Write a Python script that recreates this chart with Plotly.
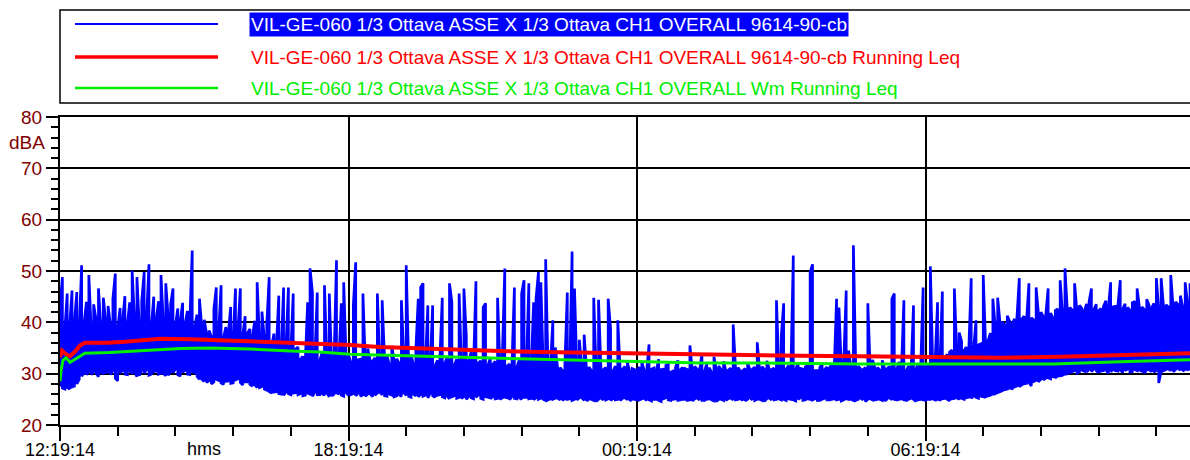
import numpy as np
import pandas as pd
import plotly.graph_objects as go

# ---------------- data ----------------
start_time = "2000-01-01 12:19:14"
span_minutes = 1410
blue_step_minutes = 3

blue_name = "VIL-GE-060 1/3 Ottava ASSE X 1/3 Ottava CH1 OVERALL 9614-90-cb"
red_name = "VIL-GE-060 1/3 Ottava ASSE X 1/3 Ottava CH1 OVERALL 9614-90-cb Running Leq"
green_name = "VIL-GE-060 1/3 Ottava ASSE X 1/3 Ottava CH1 OVERALL Wm Running Leq"

# per 3-minute interval: minimum and maximum level of the raw trace (dBA)
blue_min_db = [
    27.5, 27.2, 27.0, 27.3, 27.0, 27.4, 27.6, 28.0, 28.9, 29.5, 30.2, 29.8, 30.4, 29.8, 30.5, 30.1, 29.4, 30.3, 29.9, 30.1,
    30.4, 29.8, 30.6, 29.1, 28.6, 30.2, 30.6, 29.9, 29.8, 30.5, 30.0, 30.3, 29.4, 29.6, 30.7, 30.1, 30.8, 29.7, 29.9, 30.4,
    30.5, 29.9, 30.1, 30.0, 29.6, 29.7, 30.4, 30.2, 30.9, 29.8, 29.5, 30.3, 30.6, 29.9, 29.8, 30.4, 30.2, 29.5, 28.9, 28.9,
    28.5, 28.3, 28.6, 28.0, 28.4, 28.9, 28.7, 28.2, 27.9, 28.5, 28.6, 28.1, 28.2, 28.8, 29.0, 28.3, 27.8, 28.4, 28.4, 27.9,
    27.6, 27.8, 27.3, 27.3, 27.5, 27.0, 26.8, 26.5, 26.2, 26.4, 26.5, 26.1, 26.0, 25.8, 26.4, 26.1, 25.9, 26.2, 26.3, 25.9,
    26.1, 25.7, 25.8, 26.2, 26.0, 25.6, 26.4, 25.9, 25.9, 26.1, 25.8, 26.2, 25.5, 25.7, 26.0, 26.3, 26.0, 25.8, 25.6, 26.3,
    25.8, 25.9, 26.1, 25.7, 26.2, 25.6, 25.9, 25.6, 26.0, 26.1, 25.5, 25.8, 26.2, 26.4, 25.9, 25.7, 25.6, 26.0, 25.8, 25.5,
    25.7, 25.9, 25.6, 26.3, 25.8, 25.6, 25.4, 26.0, 25.7, 25.5, 25.9, 25.6, 25.8, 25.3, 26.2, 25.7, 25.4, 25.8, 25.9, 25.5,
    25.3, 25.6, 25.1, 25.5, 25.7, 25.2, 25.4, 25.2, 25.5, 25.0, 25.6, 25.3, 25.1, 25.4, 25.8, 25.2, 25.0, 25.5, 25.4, 25.1,
    25.5, 25.1, 25.2, 25.0, 25.3, 25.4, 25.3, 24.9, 25.6, 25.2, 25.1, 25.3, 25.0, 25.4, 25.4, 25.1, 25.2, 24.9, 25.3, 25.0,
    25.2, 25.0, 24.8, 24.9, 25.1, 25.0, 25.2, 25.2, 24.9, 24.8, 25.1, 25.0, 25.1, 24.8, 25.0, 24.9, 25.3, 25.3, 24.8, 24.7,
    25.0, 25.0, 24.8, 24.6, 25.0, 25.2, 24.9, 24.9, 25.1, 24.8, 25.1, 24.9, 25.0, 24.8, 25.2, 25.3, 24.9, 24.7, 25.0, 25.0,
    24.9, 24.9, 25.1, 25.2, 24.8, 24.9, 24.7, 25.0, 25.0, 24.8, 24.6, 25.1, 25.3, 24.9, 24.8, 25.0, 25.1, 24.8, 24.9, 25.0,
    25.0, 24.8, 24.9, 24.7, 25.1, 25.2, 24.9, 24.8, 24.8, 25.0, 25.1, 24.9, 24.7, 24.6, 25.0, 25.0, 24.8, 24.8, 25.1, 25.2,
    24.9, 24.9, 25.0, 25.1, 24.8, 24.7, 25.0, 25.3, 24.9, 24.8, 25.0, 25.0, 24.8, 24.6, 25.1, 25.2, 24.9, 24.9, 25.0, 25.1,
    24.9, 25.0, 24.8, 25.1, 25.0, 24.9, 24.7, 25.0, 25.3, 24.8, 24.9, 25.1, 25.0, 24.9, 25.1, 24.8, 24.8, 25.0, 25.2, 24.9,
    24.9, 25.0, 25.1, 24.9, 25.0, 24.7, 24.9, 25.1, 25.0, 25.0, 24.8, 24.8, 25.0, 25.2, 24.9, 24.6, 25.0, 25.1, 24.9, 24.9,
    25.0, 25.0, 24.8, 24.7, 25.0, 25.3, 24.9, 25.0, 24.9, 25.0, 25.1, 24.9, 24.8, 25.0, 25.2, 25.0, 24.6, 24.9, 25.0, 24.9,
    24.8, 25.0, 25.0, 25.1, 24.9, 25.0, 24.9, 25.1, 25.2, 25.0, 24.7, 25.1, 25.2, 25.3, 25.0, 25.2, 25.0, 25.3, 25.4, 25.2,
    25.6, 25.4, 25.2, 25.6, 25.5, 25.5, 25.7, 25.8, 26.0, 26.1, 26.3, 26.5, 26.7, 26.9, 27.0, 27.2, 27.1, 27.4, 27.6, 27.5,
    27.8, 28.0, 28.1, 28.3, 27.6, 28.5, 28.7, 28.4, 28.9, 28.8, 29.1, 29.2, 29.0, 29.4, 29.3, 29.5, 29.6, 29.7, 29.9, 30.0,
    30.2, 30.4, 30.6, 30.1, 30.3, 30.7, 30.5, 30.3, 30.8, 30.4, 30.9, 30.6, 30.2, 30.5, 30.6, 30.8, 30.0, 30.4, 30.8, 30.6,
    30.5, 30.7, 30.2, 30.6, 30.9, 30.3, 30.4, 30.8, 30.6, 30.7, 30.5, 30.1, 30.7, 30.8, 30.4, 30.3, 30.6, 28.2, 30.5, 30.6,
    30.8, 30.9, 30.6, 30.4, 30.8, 31.0, 30.7, 30.5, 30.9, 30.8, 30.9,
]
blue_max_db = [
    42.8, 48.8, 38.5, 45.6, 39.2, 46.2, 40.1, 45.9, 38.7, 51.1, 39.8, 44.0, 49.2, 38.2, 43.5, 40.6, 46.6, 39.0, 44.8, 40.3,
    43.2, 39.4, 44.6, 49.5, 38.9, 42.8, 40.2, 45.1, 39.6, 43.9, 50.1, 40.5, 48.8, 39.1, 44.2, 49.8, 40.7, 51.3, 39.3, 45.0,
    40.6, 44.1, 49.2, 39.8, 47.6, 41.0, 43.5, 46.6, 39.4, 42.7, 40.2, 43.8, 39.7, 42.2, 40.4, 54.0, 39.1, 41.5, 44.6, 38.8,
    40.5, 37.6, 38.4, 37.2, 42.6, 46.8, 38.1, 47.2, 37.0, 39.1, 37.8, 43.0, 36.9, 46.6, 38.3, 46.6, 37.4, 41.2, 37.9, 38.7,
    37.1, 40.3, 47.8, 36.5, 42.1, 36.8, 39.5, 48.8, 35.4, 37.8, 35.0, 45.2, 34.6, 46.8, 35.3, 46.8, 34.1, 45.6, 34.8, 35.2,
    32.8, 33.4, 32.1, 43.9, 50.5, 45.8, 33.0, 45.8, 32.5, 34.1, 47.2, 32.9, 45.6, 31.8, 33.0, 52.1, 32.4, 43.7, 47.8, 33.2,
    33.6, 32.2, 43.3, 51.7, 32.7, 32.8, 45.6, 31.9, 34.9, 32.6, 32.4, 33.1, 45.6, 32.0, 44.3, 32.8, 33.5, 31.7, 35.4, 32.5,
    32.9, 32.1, 44.3, 33.0, 51.1, 32.4, 33.7, 31.8, 34.6, 44.6, 46.8, 47.6, 32.3, 43.3, 32.0, 43.3, 31.6, 32.6, 33.1, 44.8,
    32.0, 33.2, 47.6, 43.9, 31.7, 32.8, 45.6, 31.5, 46.6, 37.4, 32.2, 34.3, 31.4, 48.0, 32.1, 32.5, 42.9, 43.7, 31.6, 33.1,
    31.8, 32.4, 44.8, 31.3, 33.6, 50.5, 31.5, 31.9, 32.2, 46.8, 31.2, 32.7, 45.6, 48.2, 31.6, 47.6, 31.4, 43.9, 44.6, 49.8,
    47.8, 31.2, 52.3, 30.8, 31.6, 40.4, 35.1, 31.0, 31.2, 30.6, 32.0, 45.8, 31.1, 53.8, 46.6, 30.7, 36.6, 31.3, 37.6, 30.9,
    31.3, 30.6, 44.8, 30.4, 44.4, 30.9, 30.8, 31.2, 44.6, 38.8, 30.5, 31.5, 40.4, 30.7, 30.9, 31.4, 32.2, 30.3, 31.0, 30.8,
    30.7, 31.3, 32.3, 30.6, 30.4, 35.7, 30.9, 31.1, 30.5, 32.8, 30.8, 30.9, 31.6, 31.8, 30.3, 30.5, 31.2, 32.6, 30.8, 31.2,
    31.0, 30.8, 35.5, 30.6, 31.4, 30.9, 30.6, 33.9, 30.4, 31.9, 31.2, 30.3, 33.3, 30.7, 31.5, 30.8, 32.4, 30.5, 30.7, 31.1,
    39.6, 30.8, 31.2, 30.5, 30.6, 31.0, 32.1, 30.7, 30.9, 31.3, 36.1, 30.6, 31.4, 30.8, 32.5, 30.9, 30.8, 31.1, 44.3, 30.6,
    37.4, 43.7, 30.9, 31.6, 30.7, 53.0, 30.8, 32.2, 31.0, 30.9, 31.3, 31.7, 49.8, 51.3, 30.6, 30.6, 31.2, 32.0, 30.8, 31.3,
    31.1, 31.8, 30.7, 44.6, 42.9, 30.9, 32.4, 46.2, 34.5, 31.0, 55.0, 30.6, 31.5, 30.9, 30.8, 31.2, 43.7, 30.8, 32.7, 31.0,
    31.2, 30.7, 32.6, 30.9, 31.0, 31.4, 44.6, 45.6, 30.8, 32.3, 31.1, 44.3, 30.6, 31.5, 31.0, 43.3, 30.9, 32.0, 31.3, 46.8,
    31.4, 31.9, 50.9, 31.6, 32.4, 43.9, 32.1, 46.0, 32.8, 33.8, 34.2, 34.6, 46.6, 34.0, 38.0, 36.3, 34.5, 35.2, 34.8, 48.6,
    35.0, 40.4, 35.6, 35.8, 49.2, 35.3, 36.4, 37.9, 44.6, 39.2, 44.8, 39.8, 40.1, 39.5, 41.3, 40.2, 39.6, 40.7, 40.8, 48.6,
    40.6, 41.2, 40.3, 47.6, 40.9, 40.5, 46.8, 41.5, 42.0, 41.1, 41.4, 46.6, 41.8, 40.9, 42.3, 42.6, 48.2, 41.7, 50.5, 42.2,
    42.9, 42.4, 47.6, 42.0, 43.3, 42.7, 42.1, 43.6, 44.0, 46.6, 42.5, 43.5, 42.3, 42.7, 43.1, 44.2, 42.6, 47.8, 43.0, 43.1,
    43.2, 48.2, 42.6, 43.6, 42.9, 42.4, 43.8, 44.1, 46.6, 42.8, 43.0, 42.5, 44.5, 43.3, 42.8, 43.7, 48.6, 42.4, 48.6, 43.0,
    43.4, 43.0, 49.2, 42.8, 44.0, 43.5, 45.2, 42.9, 47.8, 43.6, 47.6,
]

red_minutes = [0, 2.5, 7.5, 12.5, 20, 25, 31, 60, 81, 112, 125, 162, 200, 250, 285, 324, 362, 399, 449,
               499, 549, 599, 674, 736, 799, 849, 923, 998, 1073, 1123, 1173, 1248, 1298, 1360, 1410]
red_db = [33.2, 34.5, 33.8, 33.4, 34.5, 35.5, 36.0, 36.0, 36.2, 36.6, 36.8, 36.7, 36.5, 36.3, 36.1, 35.9, 35.6,
          35.2, 34.9, 34.7, 34.4, 34.2, 34.0, 33.9, 33.7, 33.6, 33.5, 33.4, 33.2, 33.1, 33.1, 33.3, 33.5, 33.8, 34.0]

green_minutes = [0, 1.2, 3.7, 7.5, 12.5, 20, 31, 62, 112, 150, 187, 237, 287, 324, 362, 424, 487, 549, 599,
                 674, 736, 799, 873, 998, 1123, 1239, 1323, 1410]
green_db = [28.5, 30.5, 32.6, 33.1, 32.2, 32.9, 34.0, 34.1, 34.6, 34.9, 35.0, 34.8, 34.4, 34.2, 33.8, 33.5, 33.2,
            33.0, 32.8, 32.5, 32.3, 32.1, 32.1, 31.9, 31.9, 31.9, 32.3, 32.7]

y_range = [20, 80]
y_unit = "dBA"
x_unit = "hms"

# ---------------- figure ----------------
t0 = pd.Timestamp(start_time)
step_t = t0 + pd.to_timedelta(np.arange(len(blue_min_db)) * blue_step_minutes, unit="min")
# min/max envelope drawn as one polyline (low->high, then high->low at the next step)
blue_x, blue_y = [], []
for i, (t, lo, hi) in enumerate(zip(step_t, blue_min_db, blue_max_db)):
    blue_x += [t, t]
    blue_y += [lo, hi] if i % 2 == 0 else [hi, lo]
red_t = t0 + pd.to_timedelta(red_minutes, unit="min")
green_t = t0 + pd.to_timedelta(green_minutes, unit="min")

FONT = "Liberation Sans, Arial, sans-serif"
W, H = 1190, 460
ML, MR, MT, MB = 60, 0, 117, 35
PW, PH = W - ML - MR, H - MT - MB


def px(x):  # screen pixel -> paper
    return (x - ML) / PW


def py(y):
    return (H - MB - y) / PH


fig = go.Figure()
fig.add_trace(go.Scatter(x=blue_x, y=blue_y, mode="lines", name=blue_name,
                         line=dict(color="#0000ff", width=2.7), showlegend=False))
fig.add_trace(go.Scatter(x=red_t, y=red_db, mode="lines", name=red_name,
                         line=dict(color="#ff0000", width=4), showlegend=False))
fig.add_trace(go.Scatter(x=green_t, y=green_db, mode="lines", name=green_name,
                         line=dict(color="#00ee00", width=3), showlegend=False))

# legend box drawn by hand (long line samples, highlighted first entry)
shapes = [dict(type="rect", xref="paper", yref="paper", x0=px(60), x1=px(1215), y0=py(103), y1=py(10),
               line=dict(color="black", width=1.5), fillcolor="rgba(0,0,0,0)")]
annotations = []
rows = [(blue_name, "#0000ff", 2, 24), (red_name, "#ff0000", 3.5, 57), (green_name, "#00ee00", 2.5, 88)]
for k, (name, col, lw, yy) in enumerate(rows):
    shapes.append(dict(type="line", xref="paper", yref="paper", x0=px(75), x1=px(218), y0=py(yy), y1=py(yy),
                       line=dict(color=col, width=lw)))
    if k == 0:
        annotations.append(dict(text=name, xref="paper", yref="paper", x=px(249), y=py(yy), xanchor="left",
                                yanchor="middle", showarrow=False, bgcolor="#0000ff", borderpad=1,
                                font=dict(family=FONT, size=19, color="white")))
    else:
        annotations.append(dict(text=name, xref="paper", yref="paper", x=px(249), y=py(yy), xanchor="left",
                                yanchor="middle", showarrow=False,
                                font=dict(family=FONT, size=19, color=col)))

annotations.append(dict(text=y_unit, xref="paper", yref="paper", x=px(47), y=py(142), xanchor="right",
                        yanchor="middle", showarrow=False, font=dict(family=FONT, size=19, color="#800000")))
annotations.append(dict(text=x_unit, xref="paper", yref="paper", x=px(204), y=py(449), xanchor="center",
                        yanchor="middle", showarrow=False, font=dict(family=FONT, size=18, color="black")))

fig.update_layout(
    width=W, height=H,
    margin=dict(l=ML, r=MR, t=MT, b=MB, autoexpand=False),
    paper_bgcolor="white", plot_bgcolor="white",
    shapes=shapes, annotations=annotations, showlegend=False,
    font=dict(family=FONT),
)
fig.update_xaxes(
    type="date",
    range=[t0, t0 + pd.Timedelta(minutes=span_minutes)],
    tick0=t0, dtick=6 * 3600 * 1000, tickformat="%H:%M:%S",
    showgrid=True, gridcolor="black", gridwidth=1.5,
    ticks="outside", ticklen=14, tickwidth=1.5, tickcolor="black", ticklabelstandoff=-7,
    minor=dict(dtick=72 * 60 * 1000, tick0=t0, ticks="outside", ticklen=9, tickwidth=1.5,
               tickcolor="black", showgrid=False),
    showline=True, linecolor="black", linewidth=2, mirror=True,
    tickfont=dict(family=FONT, size=18, color="black"),
    zeroline=False,
)
fig.update_yaxes(
    range=y_range, dtick=10, tick0=20,
    showgrid=True, gridcolor="black", gridwidth=1.5,
    ticks="outside", ticklen=12, tickwidth=1.5, tickcolor="black",
    minor=dict(dtick=2, ticks="outside", ticklen=7, tickwidth=1.5, tickcolor="black", showgrid=False),
    showline=True, linecolor="black", linewidth=2,
    tickfont=dict(family=FONT, size=19, color="#800000"),
    zeroline=False,
)

fig.write_html("out.html", config={"displayModeBar": False},
               post_script="document.body.style.margin='0px';document.body.style.overflow='hidden';")
